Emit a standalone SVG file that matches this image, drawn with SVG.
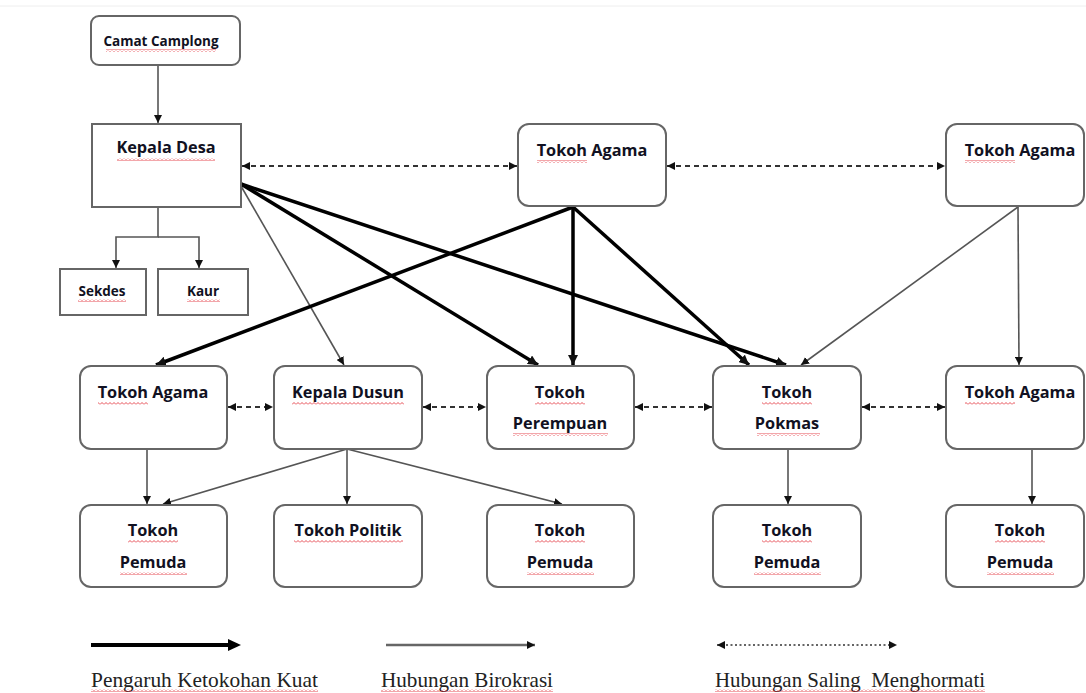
<svg xmlns="http://www.w3.org/2000/svg" width="1086" height="693" viewBox="0 0 1086 693">
<defs>
<marker id="ah" viewBox="0 0 10 10" refX="10" refY="5" markerWidth="10" markerHeight="10" markerUnits="userSpaceOnUse" orient="auto-start-reverse"><path d="M0,0 L10,5 L0,10 z" fill="#111"/></marker>
<marker id="ahs" viewBox="0 0 10 10" refX="10" refY="5" markerWidth="8" markerHeight="8" markerUnits="userSpaceOnUse" orient="auto-start-reverse"><path d="M0,0 L10,5 L0,10 z" fill="#111"/></marker>
<pattern id="sq" width="4" height="3" patternUnits="userSpaceOnUse"><polyline points="0,2.5 2,0.5 4,2.5" fill="none" stroke="#e0202a" stroke-width="0.8"/></pattern>
</defs>
<style>
.box{fill:#fff;stroke:#666;stroke-width:2}
.t{font-family:"Open Sans","Noto Sans",sans-serif;font-weight:700;font-size:16.3px;fill:#111122;text-anchor:middle}
.ts{font-size:13.5px}
.thick{stroke:#000;stroke-width:3.5;fill:none;marker-end:url(#ah)}
.thin{stroke:#555;stroke-width:1.6;fill:none;marker-end:url(#ahs)}
.dash{stroke:#333;stroke-width:2;stroke-dasharray:5 4;fill:none;marker-start:url(#ahs);marker-end:url(#ahs)}
.sq{fill:url(#sq)}
.lg{font-family:"Liberation Serif","Times New Roman",serif;font-size:21px;fill:#222}
</style>
<rect width="1086" height="693" fill="#fff"/>
<line x1="0" y1="6" x2="1086" y2="6" stroke="#eee" stroke-width="1"/>

<g id="connectors">
<line class="thin" x1="158" y1="66" x2="158" y2="123" stroke="#333"/>
<path class="thin" d="M158,208 V237 H116 V268"/>
<path class="thin" d="M158,237 H199 V268"/>
<line class="dash" x1="242" y1="166" x2="517" y2="166"/>
<line class="dash" x1="667" y1="166" x2="945" y2="166"/>
<line class="thin" x1="241" y1="186" x2="344" y2="365"/>
<line class="thick" x1="241" y1="184" x2="538" y2="365"/>
<line class="thick" x1="241" y1="184" x2="786" y2="365"/>
<line class="thick" x1="573" y1="207" x2="156" y2="365"/>
<line class="thick" x1="573" y1="207" x2="573" y2="365"/>
<line class="thick" x1="573" y1="207" x2="749" y2="365"/>
<line class="thin" x1="1018" y1="207" x2="801" y2="365"/>
<line class="thin" x1="1018" y1="207" x2="1019" y2="365"/>
<line class="dash" x1="228" y1="407" x2="273" y2="407"/>
<line class="dash" x1="423" y1="407" x2="486" y2="407"/>
<line class="dash" x1="635" y1="407" x2="712" y2="407"/>
<line class="dash" x1="862" y1="407" x2="945" y2="407"/>
<line class="thin" x1="147" y1="449" x2="147" y2="504"/>
<line class="thin" x1="347" y1="449" x2="163" y2="504"/>
<line class="thin" x1="347" y1="449" x2="347" y2="504"/>
<line class="thin" x1="347" y1="449" x2="562" y2="504"/>
<line class="thin" x1="788" y1="449" x2="788" y2="504"/>
<line class="thin" x1="1032" y1="449" x2="1032" y2="504"/>
</g>

<g id="camat"><rect class="box" x="91" y="16" width="149" height="49" rx="8"/><text class="t ts" x="161" y="46">Camat Camplong</text><rect class="sq" x="106" y="49" width="110" height="3"/></g>
<g id="kepala-desa"><rect class="box" x="92" y="124" width="149" height="83"/><text class="t" x="166" y="153">Kepala Desa</text><rect class="sq" x="117" y="158" width="98" height="3"/></g>
<g id="sekdes"><rect class="box" x="60" y="269" width="86" height="46"/><text class="t ts" x="102" y="296">Sekdes</text><rect class="sq" x="78" y="299" width="48" height="3"/></g>
<g id="kaur"><rect class="box" x="158" y="269" width="90" height="46"/><text class="t ts" x="203" y="296">Kaur</text><rect class="sq" x="187" y="299" width="33" height="3"/></g>

<g id="tokoh-agama-top"><rect class="box" x="518" y="124" width="148" height="82" rx="11"/><text class="t" x="592" y="156">Tokoh Agama</text><rect class="sq" x="537" y="160" width="50" height="3"/></g>
<g id="tokoh-agama-top-right"><rect class="box" x="946" y="124" width="138" height="82" rx="11"/><text class="t" x="1020" y="156">Tokoh Agama</text><rect class="sq" x="965" y="160" width="50" height="3"/></g>

<g id="tokoh-agama-left"><rect class="box" x="80" y="366" width="147" height="83" rx="11"/><text class="t" x="153" y="398">Tokoh Agama</text><rect class="sq" x="98" y="402" width="50" height="3"/></g>
<g id="kepala-dusun"><rect class="box" x="274" y="366" width="148" height="83" rx="11"/><text class="t" x="348" y="398">Kepala Dusun</text><rect class="sq" x="292" y="402" width="112" height="3"/></g>
<g id="tokoh-perempuan"><rect class="box" x="487" y="366" width="147" height="83" rx="11"/><text class="t" x="560" y="398">Tokoh</text><text class="t" x="560" y="429">Perempuan</text><rect class="sq" x="535" y="402" width="50" height="3"/><rect class="sq" x="513" y="433" width="95" height="3"/></g>
<g id="tokoh-pokmas"><rect class="box" x="713" y="366" width="148" height="83" rx="11"/><text class="t" x="787" y="398">Tokoh</text><text class="t" x="787" y="429">Pokmas</text><rect class="sq" x="762" y="402" width="50" height="3"/><rect class="sq" x="757" y="433" width="63" height="3"/></g>
<g id="tokoh-agama-right"><rect class="box" x="946" y="366" width="138" height="83" rx="11"/><text class="t" x="1020" y="398">Tokoh Agama</text><rect class="sq" x="965" y="402" width="50" height="3"/></g>

<g id="pemuda-1"><rect class="box" x="80" y="505" width="147" height="82" rx="11"/><text class="t" x="153" y="536">Tokoh</text><text class="t" x="153" y="568">Pemuda</text><rect class="sq" x="128" y="540" width="50" height="3"/><rect class="sq" x="120" y="572" width="67" height="3"/></g>
<g id="tokoh-politik"><rect class="box" x="274" y="505" width="148" height="82" rx="11"/><text class="t" x="348" y="536">Tokoh Politik</text><rect class="sq" x="294" y="540" width="109" height="3"/></g>
<g id="pemuda-2"><rect class="box" x="487" y="505" width="147" height="82" rx="11"/><text class="t" x="560" y="536">Tokoh</text><text class="t" x="560" y="568">Pemuda</text><rect class="sq" x="535" y="540" width="50" height="3"/><rect class="sq" x="527" y="572" width="67" height="3"/></g>
<g id="pemuda-3"><rect class="box" x="713" y="505" width="148" height="82" rx="11"/><text class="t" x="787" y="536">Tokoh</text><text class="t" x="787" y="568">Pemuda</text><rect class="sq" x="762" y="540" width="50" height="3"/><rect class="sq" x="754" y="572" width="67" height="3"/></g>
<g id="pemuda-4"><rect class="box" x="946" y="505" width="138" height="82" rx="11"/><text class="t" x="1020" y="536">Tokoh</text><text class="t" x="1020" y="568">Pemuda</text><rect class="sq" x="995" y="540" width="50" height="3"/><rect class="sq" x="987" y="572" width="67" height="3"/></g>

<g id="legend">
<line x1="91" y1="645" x2="230" y2="645" stroke="#000" stroke-width="4"/>
<path d="M228,639 L241,645 L228,651 z" fill="#000"/>
<line x1="386" y1="645" x2="535" y2="645" stroke="#666" stroke-width="2.5" marker-end="url(#ahs)"/>
<line x1="717" y1="645" x2="897" y2="645" stroke="#333" stroke-width="1.5" stroke-dasharray="2 2.5" marker-start="url(#ahs)" marker-end="url(#ahs)"/>
<text class="lg" x="91" y="687" textLength="227" lengthAdjust="spacingAndGlyphs">Pengaruh Ketokohan Kuat</text>
<text class="lg" x="381" y="687" textLength="172" lengthAdjust="spacingAndGlyphs">Hubungan Birokrasi</text>
<text class="lg" x="715" y="687" textLength="270" lengthAdjust="spacingAndGlyphs" xml:space="preserve">Hubungan Saling  Menghormati</text>
<rect class="sq" x="91" y="689" width="227" height="3"/>
<rect class="sq" x="381" y="689" width="172" height="3"/>
<rect class="sq" x="715" y="689" width="270" height="3"/>
</g>
</svg>
